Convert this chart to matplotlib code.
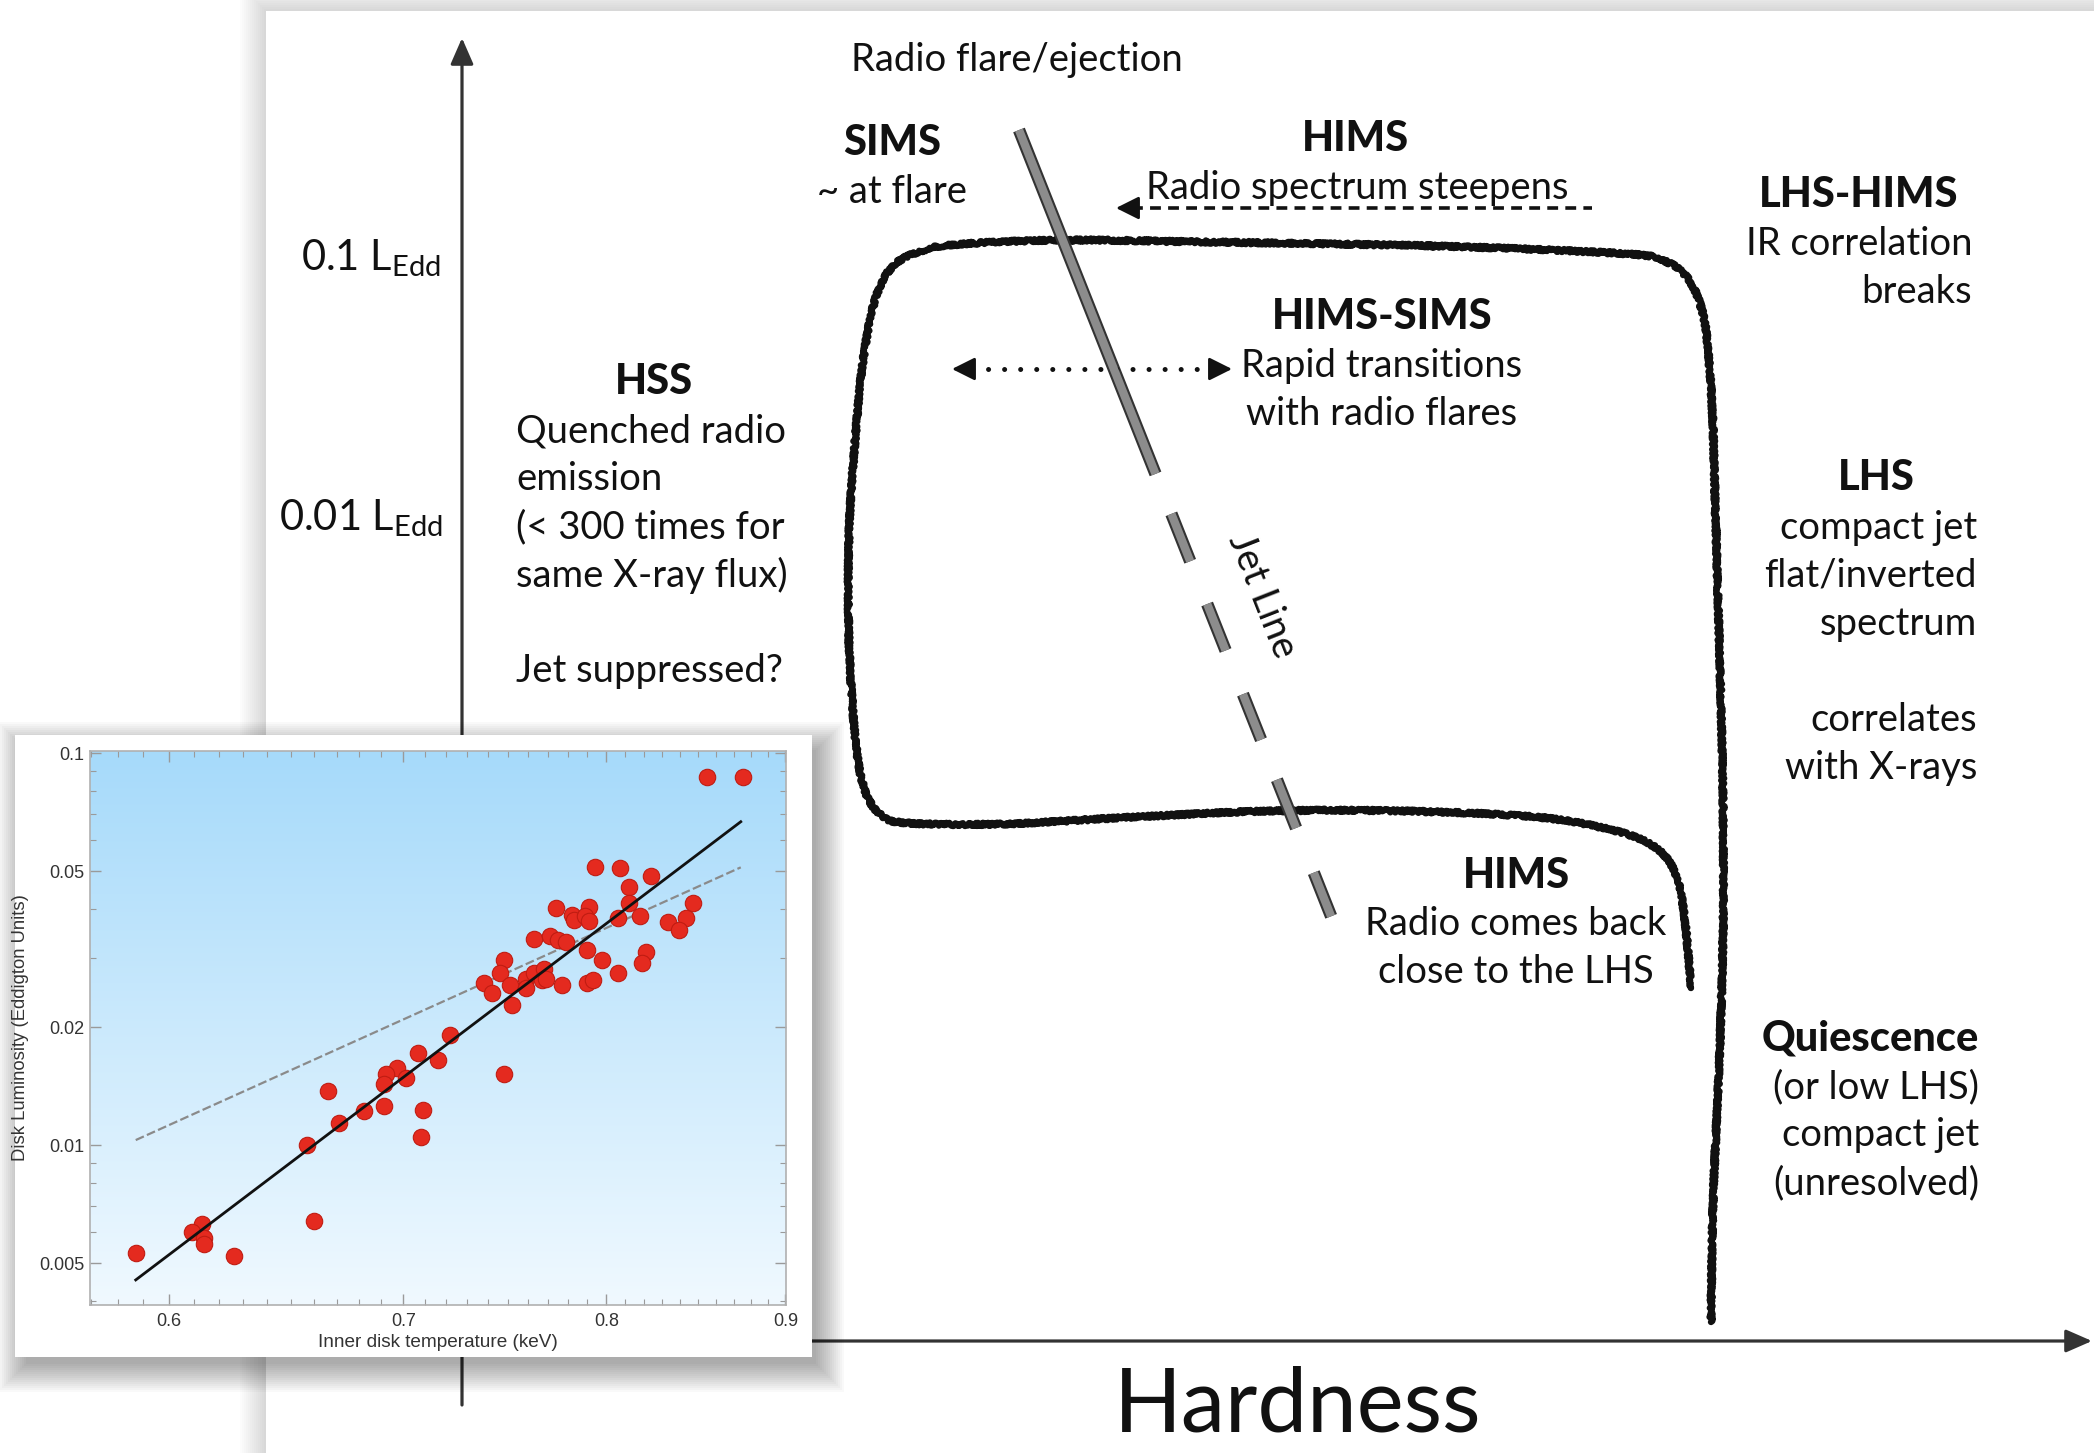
import numpy as np
import matplotlib
matplotlib.use('Agg')
import matplotlib.pyplot as plt
from matplotlib.patches import Rectangle
from matplotlib.ticker import FixedLocator, FixedFormatter, NullFormatter

plt.rcParams['font.family'] = ['Lato', 'DejaVu Sans']
plt.rcParams['mathtext.fontset'] = 'custom'
plt.rcParams['mathtext.rm'] = 'Lato'

W, H = 2094, 1453

# ---- inset: inner disk temperature vs disk luminosity ----
temp_kev = [0.855, 0.875, 0.794, 0.807, 0.824, 0.812, 0.812, 0.818, 0.806, 0.847,
            0.843, 0.833, 0.839, 0.774, 0.782, 0.783, 0.791, 0.789, 0.791, 0.763,
            0.771, 0.775, 0.779, 0.790, 0.798, 0.806, 0.821, 0.819, 0.748, 0.746,
            0.738, 0.742, 0.751, 0.752, 0.759, 0.763, 0.768, 0.759, 0.767, 0.769,
            0.777, 0.790, 0.793, 0.722, 0.707, 0.716, 0.748, 0.697, 0.692, 0.701,
            0.691, 0.666, 0.691, 0.682, 0.671, 0.657, 0.709, 0.708, 0.660, 0.613,
            0.609, 0.614, 0.614, 0.587, 0.626]
disk_lum = [0.0867, 0.0867, 0.0513, 0.0508, 0.0486, 0.0456, 0.0415, 0.0384, 0.0379, 0.0415,
            0.0379, 0.0371, 0.0354, 0.0403, 0.0386, 0.0376, 0.0404, 0.0384, 0.0373, 0.0335,
            0.0341, 0.0333, 0.0330, 0.0314, 0.0296, 0.0275, 0.0311, 0.0291, 0.0296, 0.0274,
            0.0259, 0.0245, 0.0256, 0.0228, 0.0266, 0.0274, 0.0281, 0.0251, 0.0264, 0.0266,
            0.0256, 0.0259, 0.0264, 0.0191, 0.0172, 0.0165, 0.0152, 0.0157, 0.0152, 0.0148,
            0.0143, 0.0137, 0.0126, 0.0122, 0.0114, 0.0100, 0.0123, 0.0105, 0.0064, 0.0063,
            0.0060, 0.0058, 0.0056, 0.0053, 0.0052]
fit_temp = [0.587, 0.874]
fit_solid = [0.00453, 0.0668]
fit_dashed = [0.0103, 0.0511]
inset_xticks = [0.6, 0.7, 0.8, 0.9]
inset_yticks = [0.005, 0.01, 0.02, 0.05, 0.1]
inset_ylabels = ['0.005', '0.01', '0.02', '0.05', '0.1']

# ---- schematic: hand drawn track (pixel coords) ----
track = np.array([
    (1711, 1322), (1713, 1202), (1719, 1068), (1723, 935), (1723, 801), (1720, 668),
    (1716, 534), (1713, 427), (1709, 361), (1703, 314), (1689, 280), (1667, 262),
    (1629, 254), (1469, 247), (1336, 244), (1202, 242), (1068, 240), (962, 244),
    (921, 251), (892, 267), (875, 300), (863, 361), (855, 441), (849, 534),
    (849, 641), (855, 735), (864, 788), (881, 815), (908, 823), (1002, 824),
    (1135, 817), (1269, 811), (1402, 811), (1536, 817), (1616, 831), (1656, 848),
    (1676, 875), (1685, 921), (1691, 988)], dtype=float)

jet_start = np.array([1019.0, 130.0])
jet_end = np.array([1331.0, 916.0])
jet_pieces = [(0, 370), (413, 464), (510, 560), (607, 656), (699, 751), (799, 846)]

hss_lines = ['Quenched radio', 'emission', '(< 300 times for', 'same X-ray flux)', '', 'Jet suppressed?']
lhs_lines = ['compact jet', 'flat/inverted', 'spectrum', '', 'correlates', 'with X-rays']
lhshims_lines = ['IR correlation', 'breaks']
hsims_lines = ['Rapid transitions', 'with radio flares']
hims_low_lines = ['Radio comes back', 'close to the LHS']
quiet_lines = ['(or low LHS)', 'compact jet', '(unresolved)']


def smooth(pts, n=16):
    p = np.vstack([pts[0], pts, pts[-1]])
    out = []
    t = np.linspace(0, 1, n, endpoint=False)[:, None]
    for i in range(1, len(p) - 2):
        p0, p1, p2, p3 = p[i - 1], p[i], p[i + 1], p[i + 2]
        out.append(0.5 * (2 * p1 + (-p0 + p2) * t + (2 * p0 - 5 * p1 + 4 * p2 - p3) * t ** 2
                          + (-p0 + 3 * p1 - 3 * p2 + p3) * t ** 3))
    out.append(p[-2][None])
    return np.vstack(out)


fig = plt.figure(figsize=(W / 100, H / 100), dpi=100)
fig.patch.set_facecolor('white')
ax = fig.add_axes([0, 0, 1, 1])
ax.set_xlim(0, W)
ax.set_ylim(H, 0)
ax.axis('off')


def soft_shadow(x0, y0, w, h, spread, alpha, z):
    for k in range(0, spread, 2):
        ax.add_patch(Rectangle((x0 - k, y0 - k), w + 2 * k, h + 2 * k,
                               color='k', alpha=alpha, lw=0, zorder=z))


# slide card + shadow
soft_shadow(264, 9, W, H, 26, 0.011, 0)
ax.add_patch(Rectangle((266, 11), W, H, color='white', lw=0, zorder=1))

# axes arrows
arr = dict(arrowstyle='-|>,head_length=0.8,head_width=0.35', lw=2.3, color='#333333',
           mutation_scale=20, shrinkA=0, shrinkB=0)
ax.annotate('', xy=(462, 38), xytext=(462, 1405), arrowprops=arr, zorder=3)
ax.annotate('', xy=(2092, 1341), xytext=(462, 1341), arrowprops=arr, zorder=3)

# hand drawn track
ts = smooth(track)
ln, = ax.plot(ts[:, 0], ts[:, 1], color='#111111', lw=4.6, zorder=4, solid_capstyle='round')
ln.set_sketch_params(scale=1.6, length=2.5, randomness=3)

# jet line
u = (jet_end - jet_start) / np.hypot(*(jet_end - jet_start))
for a, b in jet_pieces:
    p, q = jet_start + u * a, jet_start + u * b
    ax.plot([p[0], q[0]], [p[1], q[1]], color='#333333', lw=9, solid_capstyle='butt', zorder=5)
    ax.plot([p[0], q[0]], [p[1], q[1]], color='#8c8c8c', lw=6, solid_capstyle='butt', zorder=6)

# radio spectrum steepens arrow (dashed)
head = dict(arrowstyle='-|>,head_length=0.7,head_width=0.35', lw=2, color='#111111',
            mutation_scale=20, shrinkA=0, shrinkB=0)
ax.plot([1132, 1592], [208, 208], color='#111111', lw=2.6, dashes=(3, 2), zorder=5)
ax.annotate('', xy=(1116, 208), xytext=(1136, 208), arrowprops=head, zorder=5)

# dotted double arrow
ax.plot([972, 1212], [369, 369], color='#111111', lw=3.6, linestyle=(0, (0.01, 3.2)),
        dash_capstyle='round', zorder=5)
ax.annotate('', xy=(952, 369), xytext=(974, 369), arrowprops=head, zorder=5)
ax.annotate('', xy=(1232, 369), xytext=(1210, 369), arrowprops=head, zorder=5)

# texts
tc = '#111111'
fs = 27.5
hs = 30


def txt(s, x, y, ha='center', bold=False, size=fs, **kw):
    ax.text(x, y, s, ha=ha, va='center', color=tc, fontsize=size,
            fontweight='black' if bold else 'normal', zorder=7, **kw)


txt(r'0.1 L$_{\rm Edd}$', 441, 258, ha='right', size=30)
txt(r'0.01 L$_{\rm Edd}$', 443, 518, ha='right', size=30)

txt('Radio flare/ejection', 851, 60, ha='left')
txt('SIMS', 892, 143, bold=True, size=hs)
txt('~ at flare', 817, 192, ha='left')
txt('HIMS', 1355, 139, bold=True, size=hs)
txt('Radio spectrum steepens', 1146, 188, ha='left')

txt('LHS-HIMS', 1859, 195, bold=True, size=hs)
for i, s in enumerate(lhshims_lines):
    txt(s, 1972, 244 + 48 * i, ha='right')

txt('HIMS-SIMS', 1382, 317, bold=True, size=hs)
for i, s in enumerate(hsims_lines):
    txt(s, 1382, 366 + 48 * i)

txt('HSS', 654, 382, bold=True, size=hs)
for i, s in enumerate(hss_lines):
    if s:
        txt(s, 516, 431 + 48 * i, ha='left')

txt('LHS', 1876, 478, bold=True, size=hs)
for i, s in enumerate(lhs_lines):
    if s:
        txt(s, 1977, 528 + 48 * i, ha='right')

txt('Jet Line', 1262, 596, rotation=-68.5, rotation_mode='anchor')

txt('HIMS', 1516, 876, bold=True, size=hs)
for i, s in enumerate(hims_low_lines):
    txt(s, 1516, 924 + 48 * i)

txt('Quiescence', 1979, 1039, ha='right', bold=True, size=hs)
for i, s in enumerate(quiet_lines):
    txt(s, 1979, 1087 + 48 * i, ha='right')

txt('Hardness', 1298, 1406, size=64)

# inset card with shadow
soft_shadow(26, 750, 790, 614, 30, 0.022, 8)
ax.add_patch(Rectangle((15, 735), 797, 622, color='white', lw=0, zorder=9))
grad = np.linspace(0, 1, 256)[:, None]
top_c = np.array([166, 218, 250]) / 255
bot_c = np.array([240, 249, 255]) / 255
img = top_c[None, None, :] * (1 - grad[:, :, None]) + bot_c[None, None, :] * grad[:, :, None]
ax.imshow(img, extent=(90, 786, 1305, 751), aspect='auto', zorder=10, interpolation='bilinear')
ax.set_xlim(0, W)
ax.set_ylim(H, 0)

axi = fig.add_axes([90 / W, 1 - 1305 / H, (786 - 90) / W, (1305 - 751) / H])
axi.patch.set_alpha(0)
axi.set_xscale('log')
axi.set_yscale('log')
axi.set_xlim(0.5696, 0.9004)
axi.set_ylim(0.00391, 0.1012)

axi.plot(fit_temp, fit_dashed, color='#8a8a8a', lw=1.6, dashes=(4, 1.5), zorder=2)
axi.plot(fit_temp, fit_solid, color='#111111', lw=2.0, zorder=4)
axi.scatter(temp_kev, disk_lum, s=140, c='#e42a1f', edgecolors='#c01c12', linewidths=0.8, zorder=3)

axi.xaxis.set_major_locator(FixedLocator(inset_xticks))
axi.xaxis.set_major_formatter(FixedFormatter(['0.6', '0.7', '0.8', '0.9']))
axi.xaxis.set_minor_locator(FixedLocator(np.arange(0.57, 0.905, 0.01)))
axi.xaxis.set_minor_formatter(NullFormatter())
axi.yaxis.set_major_locator(FixedLocator(inset_yticks))
axi.yaxis.set_major_formatter(FixedFormatter(inset_ylabels))
minor_y = [k * 10.0 ** e for e in (-3, -2) for k in range(1, 10)]
axi.yaxis.set_minor_locator(FixedLocator(minor_y))
axi.yaxis.set_minor_formatter(NullFormatter())
axi.tick_params(which='both', direction='in', top=True, right=True, color='#9a9a9a',
                labelcolor='#333333', labelsize=13, labelfontfamily='Liberation Sans')
axi.tick_params(which='major', length=8, width=1, pad=6)
axi.tick_params(which='minor', length=4, width=0.8)
axi.tick_params(axis='y', pad=4)
for sp in axi.spines.values():
    sp.set_color('#b0b0b0')
    sp.set_linewidth(1.2)
axi.set_xlabel('Inner disk temperature (keV)', fontsize=13.7, color='#333333', family='Liberation Sans')
axi.set_ylabel('Disk Luminosity (Eddigton Units)', fontsize=13.3, color='#333333', family='Liberation Sans')
axi.xaxis.set_label_coords(0.5, -0.052)
axi.yaxis.set_label_coords(-0.088, 0.5)

fig.savefig('out.png', dpi=100)
